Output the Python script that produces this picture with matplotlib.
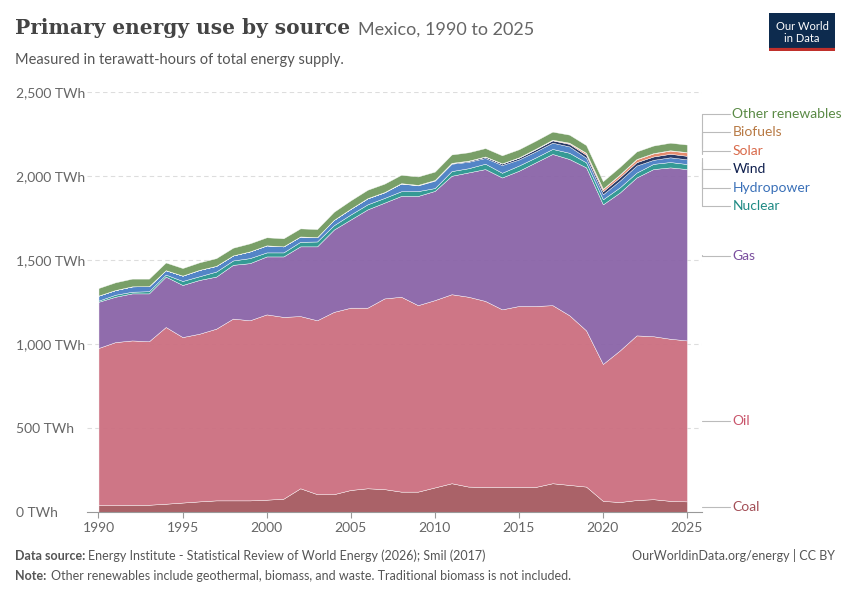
import matplotlib.pyplot as plt
import numpy as np

years = list(range(1990, 2026))
coal = [40,40,42,42,48,55,62,68,68,68,72,78,140,105,105,130,140,135,120,120,145,170,150,148,148,148,148,170,160,150,65,58,70,75,65,62]
oil_top = [975,1010,1020,1015,1100,1040,1060,1090,1150,1140,1175,1160,1165,1140,1190,1215,1215,1270,1280,1230,1260,1295,1280,1255,1205,1225,1225,1230,1170,1080,880,960,1050,1045,1030,1020]
gas_top = [1250,1280,1300,1300,1400,1350,1380,1400,1470,1480,1520,1520,1580,1580,1680,1740,1800,1840,1880,1880,1910,2000,2020,2040,1990,2030,2080,2130,2100,2050,1830,1900,1990,2040,2050,2040]
nuclear = [7,12,10,13,12,24,22,30,26,30,24,24,27,29,26,30,30,28,28,29,17,28,25,32,28,31,29,30,37,30,30,31,29,31,32,30]
hydro = [30,28,32,30,26,32,38,34,30,40,42,36,32,26,32,34,36,34,46,34,44,44,38,34,46,36,36,37,38,28,30,40,42,24,28,28]
wind = [0]*18 + [1,2,3,4,6,8,9,11,13,14,15,17,18,20,20,20,21,21]
solar = [0]*25 + [1,1,2,5,10,13,15,17,18,19,20]
biofuels = [0]*16 + [1,1,1,1,1,1,1,1,1,1,2,2,2,2,2,2,2,2,2,2]
other = [45,46,46,45,46,45,45,46,46,48,48,48,48,48,48,50,50,50,50,50,50,50,50,50,48,48,48,48,48,46,45,45,45,45,45,45]

oil = np.array(oil_top) - np.array(coal)
gas = np.array(gas_top) - np.array(oil_top)
series = [coal, oil, gas, nuclear, hydro, wind, solar, biofuels, other]
names = ["Coal","Oil","Gas","Nuclear","Hydropower","Wind","Solar","Biofuels","Other renewables"]
colors = ["#a65a60","#cc6f80","#8a64a8","#2a958f","#4a7fc4","#1d2f5e","#e38566","#c98f5e","#729a60"]
label_colors = ["#a34f57","#c9556b","#7a4e9e","#1f8a84","#3a70b8","#0f1f4e","#d96a4a","#b87a45","#5a8a45"]

plt.rcParams['font.family'] = ['Lato', 'DejaVu Sans']
fig = plt.figure(figsize=(8.5, 6), dpi=100)
ax = fig.add_axes([0.102, 0.147, 0.724, 0.7])
ax.stackplot(years, *series, colors=colors, alpha=0.95, linewidth=0.3, edgecolor='white')
ax.set_xlim(1989.3, 2025.9)
ax.set_ylim(0, 2500)
ax.set_yticks([0,500,1000,1500,2000,2500])
ax.set_yticklabels(["0 TWh","500 TWh","1,000 TWh","1,500 TWh","2,000 TWh","2,500 TWh"], color="#666", fontsize=10)
ax.set_xticks([1990,1995,2000,2005,2010,2015,2020,2025])
ax.set_xticklabels([str(y) for y in [1990,1995,2000,2005,2010,2015,2020,2025]], color="#666", fontsize=10)
for s in ['top','right','left']:
    ax.spines[s].set_visible(False)
ax.spines['bottom'].set_color('#999')
ax.tick_params(axis='y', length=0)
ax.tick_params(axis='x', length=4, color='#999')
for y in [500,1000,1500,2000,2500]:
    ax.axhline(y, color='#ddd', lw=0.8, ls=(0,(4,3)), zorder=0)
for lab in ax.get_yticklabels():
    lab.set_horizontalalignment('left')
ax.yaxis.set_tick_params(pad=51)

cum = np.cumsum([np.array(s)[-1] for s in series])
mids = [(cum[i]-np.array(series[i])[-1]/2) for i in range(len(series))]
label_y = {"Coal":30,"Oil":540,"Gas":1520,"Nuclear":1820,"Hydropower":1930,"Wind":2040,"Solar":2150,"Biofuels":2260,"Other renewables":2370}
for i, n in enumerate(names):
    ly = label_y[n]
    ax.annotate(n, xy=(2025.9, mids[i]), xytext=(2027.7, ly), textcoords='data',
                annotation_clip=False, fontsize=10, color=label_colors[i], va='center',
                arrowprops=dict(arrowstyle='-', color='#bbb', lw=0.8,
                                connectionstyle='angle,angleA=0,angleB=90,rad=0', shrinkA=0, shrinkB=0))

fig.text(0.018, 0.943, "Primary energy use by source", fontsize=14.5, fontweight='bold', color='#444', family=['DejaVu Serif'])
fig.text(0.421, 0.943, "Mexico, 1990 to 2025", fontsize=13, color='#666')
fig.text(0.018, 0.893, "Measured in terawatt-hours of total energy supply.", fontsize=10.5, color='#555')
fig.text(0.018, 0.067, "Data source:", fontsize=9, color='#555', fontweight='bold')
fig.text(0.103, 0.067, "Energy Institute - Statistical Review of World Energy (2026); Smil (2017)", fontsize=9, color='#555')
fig.text(0.982, 0.067, "OurWorldinData.org/energy | CC BY", fontsize=9, color='#555', ha='right')
fig.text(0.018, 0.033, "Note:", fontsize=9, color='#555', fontweight='bold')
fig.text(0.06, 0.033, "Other renewables include geothermal, biomass, and waste. Traditional biomass is not included.", fontsize=9, color='#555')
lax = fig.add_axes([0.905, 0.915, 0.077, 0.063])
lax.set_facecolor('#0d2b4e'); lax.set_xticks([]); lax.set_yticks([])
for s in lax.spines.values(): s.set_visible(False)
lax.axhline(0.03, color='#c0302b', lw=3)
lax.text(0.5, 0.5, "Our World\nin Data", color='white', fontsize=8, ha='center', va='center', transform=lax.transAxes, linespacing=1.1)
fig.savefig("out.png", dpi=100)
